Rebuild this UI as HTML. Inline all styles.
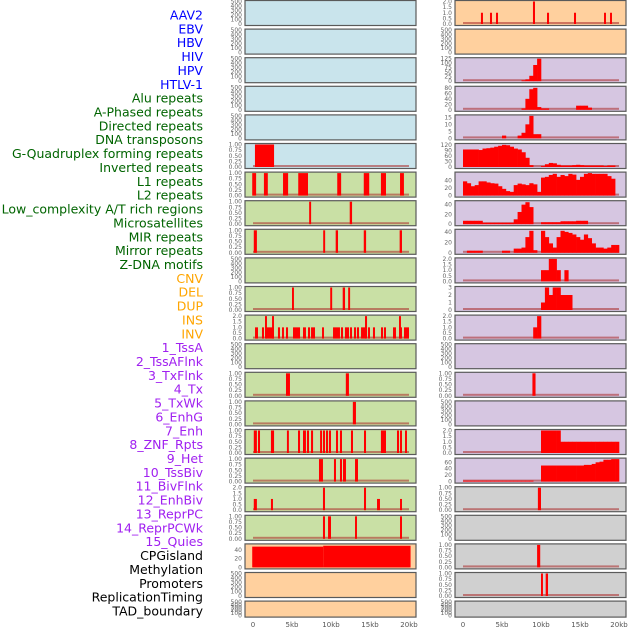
<!DOCTYPE html>
<html><head><meta charset="utf-8">
<style>
html,body{margin:0;padding:0;background:#fff;}
svg{display:block;}
.lbl{font-family:"DejaVu Sans","Liberation Sans",sans-serif;font-size:12.5px;}
.tk{font-family:"DejaVu Sans","Liberation Sans",sans-serif;font-size:6px;fill:#666;}
.xt{font-family:"DejaVu Sans","Liberation Sans",sans-serif;font-size:7px;fill:#555;}
</style></head>
<body>
<svg id="chart" width="630" height="630" viewBox="0 0 630 630" xmlns="http://www.w3.org/2000/svg"></svg>
<script>
// ---- track labels ----
const trackLabels = ["AAV2","EBV","HBV","HIV","HPV","HTLV-1","Alu repeats","A-Phased repeats","Directed repeats","DNA transposons","G-Quadruplex forming repeats","Inverted repeats","L1 repeats","L2 repeats","Low_complexity A/T rich regions","Microsatellites","MIR repeats","Mirror repeats","Z-DNA motifs","CNV","DEL","DUP","INS","INV","1_TssA","2_TssAFlnk","3_TxFlnk","4_Tx","5_TxWk","6_EnhG","7_Enh","8_ZNF_Rpts","9_Het","10_TssBiv","11_BivFlnk","12_EnhBiv","13_ReprPC","14_ReprPCWk","15_Quies","CPGisland","Methylation","Promoters","ReplicationTiming","TAD_boundary"];
const labelGroups = [6,13,5,15,5];
const xTickLabels = ["0","5kb","10kb","15kb","20kb"];
const xTickValues = [0,5,10,15,20];

// ---- tick sets ----
const ticks500 = [0,100,200,300,400,500];
const ticks1 = [0,0.25,0.5,0.75,1];
const ticks2 = [0,0.5,1,1.5,2];

// ---- left column segment data [startKb, endKb, value] ----
const L5 = [[0.25,2.7,1]];
const L6 = [[-0.1,0.4,1],[1.4,1.9,1],[3.85,4.5,1],[5.8,7.05,1],[10.8,11.3,1],[14.2,14.9,1],[16.4,17.05,1],[18.85,19.35,1]];
const L7 = [[7.2,7.45,1],[12.4,12.7,1]];
const L8 = [[0.1,0.5,1],[9.0,9.25,1],[10.6,10.9,1],[14.2,14.5,1],[18.8,19.1,1]];
const L10 = [[5.0,5.25,1],[9.9,10.15,1],[11.5,11.8,1],[12.2,12.45,1]];
const L11 = [[0.26,0.64,1],[1.15,1.41,1],[1.67,2.69,1],[1.54,1.79,2],[2.44,2.69,2],[3.2,3.46,1],[3.72,3.97,1],[4.23,4.49,1],[5.13,6.03,1],[6.41,6.79,1],[7.05,7.31,1],[7.44,7.95,1],[8.85,9.1,1],[10.26,11.15,1],[11.28,11.54,1],[11.79,12.31,1],[12.44,12.69,1],[12.95,13.21,1],[13.33,13.59,1],[13.85,14.49,1],[14.36,14.62,2],[14.74,15.0,1],[15.38,15.64,1],[16.41,16.67,1],[16.79,17.05,1],[17.95,18.33,1],[18.72,19.1,1],[18.72,18.97,2],[19.36,20.0,1]];
const L13 = [[4.23,4.74,1],[11.9,12.3,1]];
const L14 = [[12.8,13.2,1]];
const L15 = [[0.1,0.5,1],[0.64,0.9,1],[2.3,2.7,1],[4.35,4.6,1],[5.77,6.03,1],[6.41,6.79,1],[6.92,7.18,1],[7.44,7.7,1],[8.6,8.85,1],[8.97,9.23,1],[9.36,9.62,1],[9.74,10.0,1],[10.64,10.9,1],[11.15,11.41,1],[12.56,12.82,1],[14.23,14.49,1],[16.4,17.05,1],[18.46,18.72,1],[18.85,19.1,1],[19.49,19.74,1]];
const L16 = [[8.46,8.97,1],[10.38,10.64,1],[11.15,11.41,1],[11.54,11.92,1],[13.08,13.46,1]];
const L17 = [[0.1,0.5,1],[2.3,2.56,1],[8.97,9.23,2],[14.23,14.49,2],[15.9,16.28,1],[18.85,19.1,1]];
const L18 = [[8.97,9.23,1],[9.62,10.0,1],[13.08,13.33,1],[18.85,19.1,1]];
const L19 = [[-0.1,9.0,48],[9.0,20.2,50]];

// ---- right column data ----
const R0 = [[2.3,2.56,1],[3.46,3.72,1],[4.23,4.49,1],[8.97,9.23,2],[10.77,11.03,1],[14.23,14.49,1],[18.08,18.33,1],[18.85,19.1,1]];
const R2 = [0,0,0,0,0,0,0,0,0,0,0,0,0,0,0,5,10,30,90,125,0,0,0,0,0,0,0,0,0,0,0,0,0,0,0,0,0,0,0,0];
const R3 = [0,0,0,0,0,0,0,0,0,0,0,0,0,0,0,5,40,75,80,10,5,5,0,0,0,0,0,0,0,15,15,15,8,0,0,0,0,0,0,0];
const R4 = [0,0,0,0,0,0,0,0,0,0,2,0,0,0,2,4,10,16,3,3,0,0,0,0,0,0,0,0,0,0,0,0,0,0,0,0,0,0,0,0];
const R5 = [95,95,95,95,92,100,102,105,110,115,120,118,110,100,95,80,50,10,0,0,5,15,22,20,12,8,8,8,10,12,10,8,8,8,8,8,5,8,8,0];
const R6 = [38,33,25,28,38,38,35,33,32,25,18,12,10,28,32,30,28,33,30,10,48,50,55,58,50,55,52,58,56,42,50,58,60,58,58,58,58,52,45,0];
const R7 = [7,7,7,7,7,3,3,3,3,3,3,3,3,10,25,40,45,35,0,0,4,4,4,4,4,6,6,6,6,7,7,7,0,0,0,0,0,0,0,0];
const R8 = [0,4,4,4,4,0,0,0,0,0,4,4,0,8,8,10,30,42,5,0,42,30,18,10,30,42,40,38,35,30,25,35,28,18,10,10,8,10,15,15];
const R9 = [0,0,0,0,0,0,0,0,0,0,0,0,0,0,0,0,0,0,0,0,1,1,2,2,1,0,1,0,0,0,0,0,0,0,0,0,0,0,0,0];
const R10 = [0,0,0,0,0,0,0,0,0,0,0,0,0,0,0,0,0,0,0,0,1,3,2,3,3,2,2,2,0,0,0,0,0,0,0,0,0,0,0,0];
const R11 = [0,0,0,0,0,0,0,0,0,0,0,0,0,0,0,0,0,0,1,2,0,0,0,0,0,0,0,0,0,0,0,0,0,0,0,0,0,0,0,0];
const R13 = [[8.9,9.3,1]];
const R15 = [0,0,0,0,0,0,0,0,0,0,0,0,0,0,0,0,0,0,0,0,2,2,2,2,2,1,1,1,1,1,1,1,1,1,1,1,1,1,1,1];
const R16 = [3,3,3,3,3,3,3,3,3,3,3,3,3,3,3,3,3,3,0,0,50,50,50,50,50,50,50,50,50,50,50,52,52,55,60,62,68,68,70,70];
const R17 = [[9.6,10.0,1]];
const R19 = [[9.5,9.9,1]];
const R20 = [[10.0,10.25,1],[10.6,10.9,1]];

// panel config: [col,row,ymax,ticks,kind,data]
const panels = [
 [0,0,500,ticks500,null,null],[0,1,500,ticks500,null,null],[0,2,500,ticks500,null,null],[0,3,500,ticks500,null,null],[0,4,500,ticks500,null,null],
 [0,5,1,ticks1,'seg',L5],[0,6,1,ticks1,'seg',L6],[0,7,1,ticks1,'seg',L7],[0,8,1,ticks1,'seg',L8],[0,9,500,ticks500,null,null],
 [0,10,1,ticks1,'seg',L10],[0,11,2,ticks2,'seg',L11],[0,12,500,ticks500,null,null],[0,13,1,ticks1,'seg',L13],[0,14,1,ticks1,'seg',L14],
 [0,15,1,ticks1,'seg',L15],[0,16,1,ticks1,'seg',L16],[0,17,2,ticks2,'seg',L17],[0,18,1,ticks1,'seg',L18],[0,19,52,[0,20,40],'seg',L19],
 [0,20,500,ticks500,null,null],[0,21,500,ticks500,null,null],
 [1,0,2,ticks2,'seg',R0],[1,1,500,ticks500,null,null],[1,2,125,[0,25,50,75,100,125],'step',R2],[1,3,82,[0,20,40,60,80],'step',R3],
 [1,4,16,[0,5,10,15],'step',R4],[1,5,122,[0,30,60,90,120],'step',R5],[1,6,60,[0,20,40],'step',R6],[1,7,46,[0,20,40],'step',R7],
 [1,8,43,[0,20,40],'step',R8],[1,9,2,ticks2,'step',R9],[1,10,3,[0,1,2,3],'step',R10],[1,11,2,ticks2,'step',R11],
 [1,12,500,ticks500,null,null],[1,13,1,ticks1,'seg',R13],[1,14,500,ticks500,null,null],[1,15,2,ticks2,'step',R15],
 [1,16,70,[0,20,40,60],'step',R16],[1,17,1,ticks1,'seg',R17],[1,18,500,ticks500,null,null],[1,19,1,ticks1,'seg',R19],
 [1,20,1,ticks1,'seg',R20],[1,21,500,ticks500,null,null]
];

const NS = "http://www.w3.org/2000/svg";
const svg = document.getElementById('chart');
function mk(tag, attrs, parent){const e=document.createElementNS(NS,tag);for(const k in attrs)e.setAttribute(k,attrs[k]);(parent||svg).appendChild(e);return e;}

function xs(col,kb){return (col?463:253)+kb*7.8;}
function rowTop(r){return 0.5+r*28.6;}
function rowH(r){return r===21?16:25;}
function bg(col,row){
  if(col===0){ if(row<=5) return '#c9e4ec'; if(row<=18) return '#c9e0a5'; return '#ffd09e'; }
  if(row<=1) return '#ffd09e'; if(row<=16) return '#d6c6e1'; return '#d0d0d0';
}
function fmt(v,t){ if(t===ticks1) return v.toFixed(2); if(t===ticks2) return v.toFixed(1); return String(v); }

// labels
const groupColors=['#0000ff','#006400','#ffa500','#a020f0','#000000'];
let gi=0,gc=0;
trackLabels.forEach((name,k)=>{
  while(gc>=labelGroups[gi]){gi++;gc=0;}
  gc++;
  const t=mk('text',{x:203,y:15+13.86*k+4.5,'text-anchor':'end',class:'lbl',fill:groupColors[gi]});
  t.textContent=name;
  
  
});

panels.forEach(p=>{
  const [col,row,ymax,ticks,kind,data]=p;
  const top=rowTop(row),h=rowH(row);
  const left=col?455:245,w=171;
  const y0=top+h-1.5,y1=top+1;
  const ys=v=>y0-(v/ymax)*(y0-y1);
  const g=mk('g',{});
  
  
  mk('rect',{x:left,y:top,width:w,height:h,fill:bg(col,row)},g);
  if(kind){
    mk('rect',{x:xs(col,0),y:y0-2,width:xs(col,20)-xs(col,0),height:2,fill:'rgba(170,40,40,0.55)'},g);
  }
  if(kind==='seg'){
    data.forEach(s=>{
      const r=mk('rect',{x:xs(col,s[0]),y:ys(s[2]),width:Math.max(1,xs(col,s[1])-xs(col,s[0])),height:y0-ys(s[2]),fill:'#ff0000'},g);
      
      
    });
  } else if(kind==='step'){
    data.forEach((v,i)=>{
      if(v<=0) return;
      const r=mk('rect',{x:xs(col,i*0.5),y:ys(v),width:xs(col,0.5)-xs(col,0)+0.3,height:y0-ys(v),fill:'#ff0000'},g);
      
      
    });
  }
  mk('rect',{x:left,y:top,width:w,height:h,fill:'none',stroke:'#5a5a5a','stroke-width':1.2},g);
  ticks.forEach(v=>{
    const yy=kind?ys(v):(y0-(v/ymax)*(y0-y1));
    const t=mk('text',{x:left-3,y:yy+2,'text-anchor':'end',class:'tk'},g);
    t.textContent=fmt(v,ticks);
  });
});

// x axis labels
[0,1].forEach(col=>{
  xTickValues.forEach((v,i)=>{
    const t=mk('text',{x:xs(col,v),y:627,'text-anchor':'middle',class:'xt'});
    t.textContent=xTickLabels[i];
    
    
  });
});
</script>
</body></html>
